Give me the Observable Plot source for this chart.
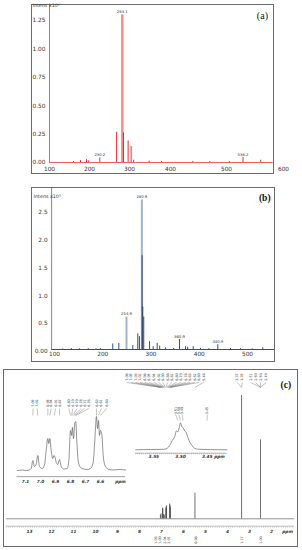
<!DOCTYPE html>
<html><head><meta charset="utf-8">
<script src="https://cdn.jsdelivr.net/npm/d3@7"></script>
<script src="https://cdn.jsdelivr.net/npm/@observablehq/plot@0.6"></script>
<style>
html,body{margin:0;padding:0;background:#fff;}
#fig{position:relative;width:302px;height:550px;overflow:hidden;font-family:"DejaVu Sans",sans-serif;}
#fig svg{position:absolute;left:0;top:0;}
.box{position:absolute;border:1px solid #6a6a6a;box-sizing:border-box;}
</style></head><body>
<div id="fig">
  <div class="box" style="left:31px;top:4px;width:243px;height:170px"></div>
  <div class="box" style="left:31px;top:187px;width:244px;height:175px"></div>
  <div class="box" style="left:3px;top:369px;width:295px;height:178px"></div>
</div>
<script>
// ---------- Panel (a): mass spectrum, red ----------
const xTicksA = [100, 200, 300, 400, 500, 600];
const yTicksA = [0, 0.25, 0.5, 0.75, 1.0, 1.25];
const msA_mz  = [160, 177.5, 192.5, 198, 225.8, 267.8, 285, 296.6, 304, 310, 348, 378, 440, 470, 505, 529, 560];
const msA_int = [0.008, 0.017, 0.025, 0.015, 0.041, 0.267, 0.26, 0.19, 0.14, 0.02, 0.012, 0.01, 0.01, 0.008, 0.01, 0.045, 0.02];
const msA_main_mz = [282];
const msA_main_int = [1.30];
const labA_mz = [225.8, 282, 529];
const labA_int = [0.041, 1.30, 0.045];
const labA_text = ["230.2", "283.1", "536.2"];

// ---------- Panel (b): mass spectrum, blue ----------
const xTicksB = [100, 200, 300, 400, 500];
const yTicksB = [0, 0.5, 1.0, 1.5, 2.0, 2.5];
const msB_mz  = [117, 135, 152, 170, 186, 195, 220.8, 233.3, 262.3, 272.7, 276, 281.6, 283, 285, 297, 304.5, 312.8, 318, 330, 347, 359, 371.5, 376, 387.5, 402.6, 420, 438.5, 464.8, 485.5, 510, 531.7];
const msB_int = [0.01, 0.015, 0.012, 0.015, 0.01, 0.02, 0.10, 0.11, 0.07, 0.28, 0.23, 1.68, 0.76, 0.58, 0.14, 0.05, 0.11, 0.06, 0.03, 0.02, 0.18, 0.05, 0.04, 0.05, 0.02, 0.015, 0.085, 0.02, 0.015, 0.01, 0.03];
const msB_light_mz = [249.2, 281];
const msB_light_int = [0.58, 2.68];
const labB_mz = [249.2, 281, 359, 438.5];
const labB_int = [0.58, 2.68, 0.18, 0.085];
const labB_text = ["254.9", "280.9", "360.9", "440.9"];

// ---------- Panel (c): 1H NMR ----------
const ppmTicks = [13, 12, 11, 10, 9, 8, 7, 6, 5, 4, 3, 2];
const nmr_ppm = [7.05, 7.02, 6.95, 6.94, 6.91, 6.87, 6.80, 6.79, 6.77, 6.63, 6.61, 6.60, 5.48, 3.36, 2.50];
const nmr_int = [3, 4, 8.5, 8.0, 3.5, 3, 8.5, 9.5, 10.5, 12, 11, 9, 20.8, 100, 64];
const topLab_text = ["7.06","7.05","7.03","7.02","6.96","6.95","6.94","6.92","6.90","6.88","6.81","6.80","6.79","6.78","6.63","6.62","6.60","5.48","3.37","3.35","2.51","2.50","2.50","2.49"];
const topLab_at = [8.59,8.38,8.18,7.97,7.76,7.56,7.35,7.14,6.94,6.73,6.52,6.32,6.11,5.90,5.70,5.49,5.28,5.08,3.56,3.33,2.95,2.73,2.50,2.24];
const topLab_to = [7.06,7.03,7.00,6.97,6.94,6.91,6.88,6.85,6.82,6.79,6.76,6.73,6.70,6.67,6.64,6.61,6.58,5.48,3.36,3.36,2.50,2.50,2.50,2.50];
const integ_at = [7.27, 7.07, 6.86, 6.67, 5.45, 3.36, 2.50];
const integ_text = ["1.03", "1.00", "2.04", "2.01", "0.98", "1.17", "1.00"];

// inset 1 (aromatic region) trace
const ins1_ppm = [7.155,7.12,7.09,7.07,7.062,7.051,7.04,7.029,7.018,7.007,6.989,6.973,6.962,6.951,6.945,6.938,6.929,6.918,6.911,6.905,6.895,6.885,6.873,6.862,6.845,6.822,6.811,6.80,6.793,6.787,6.78,6.771,6.765,6.758,6.749,6.733,6.711,6.689,6.667,6.649,6.638,6.627,6.62,6.613,6.607,6.60,6.591,6.582,6.567,6.544,6.511,6.478,6.433];
const ins1_int = [0,0.5,0,1,2,10,4,6,15,4,2,6,20,32,27,32,20,12,15,14,8,6,11,4,1.5,2,10,40,35,43,32,48,49,30,10,3,1.5,1,2,8,30,54,42,50,35,40,36,15,4,1,0.5,1,0.5];
const ins1_ticks = [7.1, 7.0, 6.9, 6.8, 6.7, 6.6];
const ins1Lab_text = ["7.05","7.02","6.95","6.94","6.91","6.87","6.80","6.79","6.79","6.78","6.77","6.76","6.63","6.61","6.60"];
const ins1Lab_at = [7.049,7.022,6.951,6.929,6.90,6.873,6.811,6.785,6.755,6.728,6.707,6.678,6.627,6.595,6.56];
const ins1Lab_to = [7.051,7.018,6.951,6.938,6.908,6.873,6.80,6.793,6.787,6.78,6.771,6.765,6.627,6.613,6.60];

// inset 2 (3.50 ppm) trace
const ins2_ppm = [3.584,3.556,3.531,3.525,3.520,3.5155,3.511,3.5075,3.505,3.5025,3.50,3.4975,3.495,3.4925,3.490,3.486,3.4825,3.478,3.474,3.466,3.444,3.413];
const ins2_int = [0,0.3,0.5,1.5,4.5,9.3,13,19,18,22,27,23,22,19,18,12,7.6,4,1.6,0.5,0.2,0];
const ins2_ticks = [3.55, 3.50, 3.45];
const ins2Lab_text = ["3.51", "3.50", "3.49", "3.45"];
const ins2Lab_at = [3.509, 3.503, 3.497, 3.45];
const ins2Lab_to = [3.505, 3.50, 3.495, 3.45];

// ---------- build ----------
const W = 302, H = 550;
const fig = document.getElementById("fig");
function add(opts) {
  const svg = Plot.plot({width: W, height: H, marginTop: 0, marginRight: 0, marginBottom: 0, marginLeft: 0,
    style: {background: "transparent", overflow: "visible", fontFamily: "DejaVu Sans"}, ...opts});
  fig.appendChild(svg);
}
const zip = (a, b, ka, kb) => a.map((v, i) => ({[ka]: v, [kb]: b[i]}));

// (a)
const peaksA = zip(msA_mz, msA_int, "mz", "v");
const mainA = zip(msA_main_mz, msA_main_int, "mz", "v");
const labsA = labA_mz.map((mz, i) => ({mz, v: labA_int[i], t: labA_text[i]}));
add({
  x: {type: "linear", domain: xTicksA, range: [49, 89, 129, 170, 226, 283], axis: null},
  y: {domain: [0, 1.4], range: [162, 3], axis: null},
  marks: [
    Plot.ruleX([100], {y1: 0, y2: 1.395, stroke: "#555", strokeWidth: 0.7}),
    Plot.ruleY([0], {x1: 100, x2: 582, stroke: "#e8343a", strokeWidth: 0.8}),
    Plot.ruleX(mainA, {x: "mz", y1: 0, y2: "v", stroke: "#f48a8a", strokeWidth: 2.4}),
    Plot.ruleX(peaksA, {x: "mz", y1: 0, y2: "v", stroke: "#e8141c", strokeWidth: 0.9}),
    Plot.text(xTicksA, {x: d => d, y: 0, dy: 6.5, text: d => String(d), fontSize: 5.8, fill: "#333"}),
    Plot.text(yTicksA, {x: 100, y: d => d, dx: -4, textAnchor: "end", text: d => d.toFixed(2), fontSize: 5.8, fill: "#333"}),
    Plot.text(["Intens x10⁶"], {x: 100, y: 1.38, dx: -17, textAnchor: "start", fontSize: 4.8, fill: "#333"}),
    Plot.text(labsA, {x: "mz", y: "v", dy: -3, text: "t", fontSize: 3.8, fill: "#333"}),
    Plot.text(["(a)"], {x: 563, y: 1.294, text: d => d, fontFamily: "Liberation Serif", fontSize: 10, fill: "#111"})
  ]
});

// (b)
const peaksB = zip(msB_mz, msB_int, "mz", "v");
const lightB = zip(msB_light_mz, msB_light_int, "mz", "v");
const labsB = labB_mz.map((mz, i) => ({mz, v: labB_int[i], t: labB_text[i]}));
add({
  x: {domain: [100, 500], range: [54, 247], axis: null},
  y: {domain: [0, 2.5], range: [349, 209.5], axis: null},
  marks: [
    Plot.ruleX([94], {y1: 0, y2: 2.9, stroke: "#555", strokeWidth: 0.7}),
    Plot.ruleY([0], {x1: 94, x2: 556, stroke: "#1b3a6d", strokeWidth: 0.9}),
    Plot.ruleX(lightB, {x: "mz", y1: 0, y2: "v", stroke: "#9db4d4", strokeWidth: 2}),
    Plot.ruleX(peaksB, {x: "mz", y1: 0, y2: "v", stroke: "#1b3a6d", strokeWidth: 0.9}),
    Plot.text(xTicksB, {x: d => d, y: 0, dy: 4.8, text: d => String(d), fontSize: 5.8, fill: "#333"}),
    Plot.text(yTicksB, {x: 94, y: d => d, dx: -4, dy: 2, textAnchor: "end", text: d => d === 0 ? "0.00" : d.toFixed(1), fontSize: 5.8, fill: "#333"}),
    Plot.text(["Intens x10⁵"], {x: 94, y: 2.74, dx: -18, textAnchor: "start", fontSize: 4.8, fill: "#333"}),
    Plot.text(labsB, {x: "mz", y: "v", dy: -3, text: "t", fontSize: 3.8, fill: "#333"}),
    Plot.text(["(b)"], {x: 535.8, y: 2.71, text: d => d, fontFamily: "Liberation Serif", fontWeight: "bold", fontSize: 9.5, fill: "#111"})
  ]
});

// (c) main spectrum
const peaksC = zip(nmr_ppm, nmr_int, "ppm", "h");
const topLabs = topLab_text.map((t, i) => ({t, at: topLab_at[i], to: topLab_to[i]}));
const integs = integ_text.map((t, i) => ({t, at: integ_at[i]}));
const nmrText = {fontStyle: "italic", fontWeight: "bold", fill: "#333"};
add({
  x: {domain: [13, 2], range: [29, 271], axis: null},
  y: {domain: [0, 100], range: [518.3, 395], axis: null},
  marks: [
    Plot.ruleY([0], {x1: 14.05, x2: 0.95, stroke: "#444", strokeWidth: 0.6}),
    Plot.ruleX(peaksC, {x: "ppm", y1: 0, y2: "h", stroke: "#333", strokeWidth: 0.7}),
    Plot.ruleY([-6], {x1: 14.05, x2: 0.95, stroke: "#777", strokeWidth: 0.5}),
    Plot.ruleY([-6.8], {x1: 14.05, x2: 0.95, stroke: "#888", strokeWidth: 1.1, strokeDasharray: "0.4 1.8"}),
    Plot.text(ppmTicks, {x: d => d, y: -10, text: d => String(d), fontSize: 4.3, ...nmrText}),
    Plot.text(["ppm"], {x: 1.27, y: -10, text: d => d, fontSize: 4.3, ...nmrText}),
    Plot.text(topLabs, {x: "at", y: 115, text: "t", rotate: -90, fontSize: 3.4, fill: "#333"}),
    Plot.link(topLabs, {x1: "at", y1: 110.6, x2: "to", y2: 106.6, stroke: "#666", strokeWidth: 0.4}),
    Plot.text(integs, {x: "at", y: -17.2, text: "t", rotate: -90, fontSize: 3.4, fill: "#333"}),
    Plot.text(["(c)"], {x: 1.35, y: 108.9, text: d => d, fontFamily: "Liberation Serif", fontWeight: "bold", fontSize: 9.5, fill: "#111"})
  ]
});

// inset 1
const ins1 = zip(ins1_ppm, ins1_int, "ppm", "h");
const ins1Labs = ins1Lab_text.map((t, i) => ({t, at: ins1Lab_at[i], to: ins1Lab_to[i]}));
add({
  x: {domain: [7.1, 6.6], range: [25, 100], axis: null},
  y: {domain: [0, 54], range: [470, 416], axis: null},
  marks: [
    Plot.line(ins1, {x: "ppm", y: "h", stroke: "#4a4a4a", strokeWidth: 0.6, curve: "monotone-x"}),
    Plot.ruleY([-6], {x1: 7.155, x2: 6.433, stroke: "#666", strokeWidth: 0.5}),
    Plot.ruleY([-6.6], {x1: 7.155, x2: 6.433, stroke: "#888", strokeWidth: 1, strokeDasharray: "0.4 1.6"}),
    Plot.text(ins1_ticks, {x: d => d, y: -10.7, text: d => d.toFixed(1), fontSize: 4.3, ...nmrText}),
    Plot.text(["ppm"], {x: 6.467, y: -10.7, text: d => d, fontSize: 4.3, ...nmrText}),
    Plot.text(ins1Labs, {x: "at", y: 67.5, text: "t", rotate: -90, fontSize: 3.4, fill: "#333"}),
    Plot.link(ins1Labs, {x1: "at", y1: 62, x2: "to", y2: 55, stroke: "#666", strokeWidth: 0.4})
  ]
});

// inset 2
const ins2 = zip(ins2_ppm, ins2_int, "ppm", "h");
const ins2Labs = ins2Lab_text.map((t, i) => ({t, at: ins2Lab_at[i], to: ins2Lab_to[i]}));
add({
  x: {domain: [3.55, 3.45], range: [153.3, 206.7], axis: null},
  y: {domain: [0, 27.6], range: [449.3, 421.7], axis: null},
  marks: [
    Plot.line(ins2, {x: "ppm", y: "h", stroke: "#4a4a4a", strokeWidth: 0.6, curve: "monotone-x"}),
    Plot.ruleY([-3.4], {x1: 3.584, x2: 3.413, stroke: "#666", strokeWidth: 0.5}),
    Plot.ruleY([-4], {x1: 3.584, x2: 3.413, stroke: "#888", strokeWidth: 1, strokeDasharray: "0.4 1.6"}),
    Plot.text(ins2_ticks, {x: d => d, y: -6.9, text: d => d.toFixed(2), fontSize: 4.3, ...nmrText}),
    Plot.text(["ppm"], {x: 3.427, y: -6.9, text: d => d, fontSize: 4.3, ...nmrText}),
    Plot.text(ins2Labs, {x: "at", y: 39.3, text: "t", rotate: -90, fontSize: 3.4, fill: "#333"}),
    Plot.link(ins2Labs, {x1: "at", y1: 35.3, x2: "to", y2: 29.3, stroke: "#666", strokeWidth: 0.4})
  ]
});
</script></body></html>
